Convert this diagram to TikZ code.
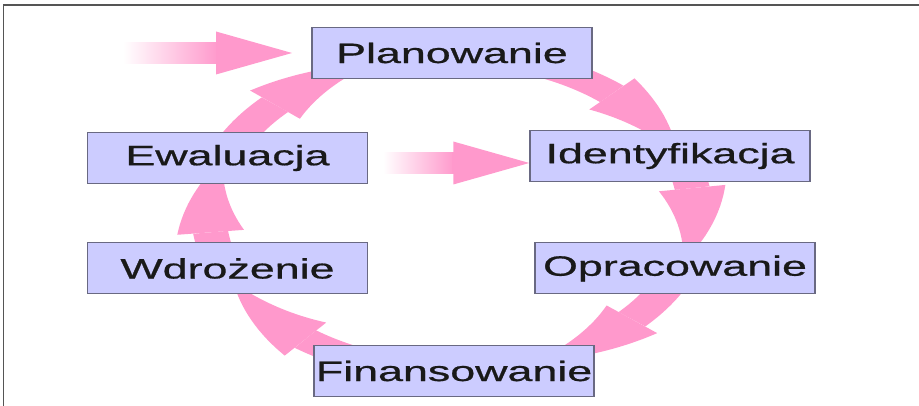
\documentclass[tikz,border=0pt]{standalone}
\usepackage{fontspec}
\setmainfont{Liberation Sans}
\newfontfamily\boxfont[FakeBold=0.6]{Liberation Sans}
\usetikzlibrary{arrows.meta,bending,calc}
\definecolor{pk}{RGB}{255,153,204}
\definecolor{boxfill}{RGB}{204,204,255}
\definecolor{boxline}{RGB}{105,105,130}
\definecolor{framec}{RGB}{85,85,85}
\definecolor{txt}{RGB}{25,25,25}
\pgfdeclarelayer{bg}
\pgfsetlayers{bg,main}
\begin{document}
\begin{tikzpicture}[x=1pt,y=1pt,
  box/.style={draw=boxline, line width=1pt, fill=boxfill, minimum width=175pt,
    minimum height=51pt, inner sep=0pt, text=txt, font=\boxfont\fontsize{28}{32}\selectfont},
  carr/.style={draw=pk, line width=22pt, -{Triangle[length=75pt,width=42pt,line width=0pt,bend]}},
  sarr/.style={draw=pk, line width=21pt, -{Triangle[length=47.5pt,width=43pt,line width=0pt]}},
  st/.style={transform canvas={xscale=1.6}}]
\useasboundingbox (0,0) rectangle (919,406);
\draw[framec, line width=1.5pt] (3.5,0) -- (3.5,401) -- (919,401);
\begin{scope}[st]
  \node[box] (Plan)  at (282.5,353)  {Planowanie};
  \node[box] (Ident) at (418.8,250)  {Identyfikacja};
  \node[box] (Oprac) at (421.9,137.5) {Opracowanie};
  \node[box] (Finan) at (283.8,35)   {Finansowanie};
  \node[box] (Wdro)  at (142.2,137.5) {Wdrożenie};
  \node[box] (Ewal)  at (142.2,248)  {Ewaluacja};
  \coordinate (C) at (282.5,193);
\end{scope}
\begin{pgfonlayer}{bg}
\begin{scope}[st]
  % cycle arrows
  \coordinate (a1) at ($(C)+(80:152pt and 158pt)$);
  \draw[carr] (a1) arc[start angle=80, end angle=22, x radius=152pt, y radius=158pt];
  \coordinate (a2) at ($(C)+(20:152pt and 158pt)$);
  \draw[carr] (a2) arc[start angle=20, end angle=-18, x radius=152pt, y radius=158pt];
  \coordinate (a3) at ($(C)+(-22:152pt and 158pt)$);
  \draw[carr] (a3) arc[start angle=-22, end angle=-70, x radius=152pt, y radius=158pt];
  \coordinate (a4) at ($(C)+(260:152pt and 158pt)$);
  \draw[carr] (a4) arc[start angle=260, end angle=206, x radius=152pt, y radius=158pt];
  \coordinate (a5) at ($(C)+(200:152pt and 158pt)$);
  \draw[carr] (a5) arc[start angle=200, end angle=160, x radius=152pt, y radius=158pt];
  \coordinate (a6) at ($(C)+(160:152pt and 158pt)$);
  \draw[carr] (a6) arc[start angle=160, end angle=109, x radius=152pt, y radius=158pt];
  % input arrow
  \coordinate (inS) at (76.9,353);
  \coordinate (inB) at (135.6,353);
  \coordinate (inT) at ($(Plan.west)+(-12,0)$);
  \shade[left color=white, right color=pk] ($(inS)+(0,-10.5)$) rectangle ($(inB)+(1,10.5)$);
  \draw[sarr] ($(inB)+(-0.5,0)$) -- (inT);
  % middle arrow
  \coordinate (mS) at (239.4,243);
  \coordinate (mB) at (283,243);
  \coordinate (mT) at ($(Ident.west)+(0,-7)$);
  \shade[left color=white, right color=pk] ($(mS)+(0,-10.5)$) rectangle ($(mB)+(1,10.5)$);
  \draw[sarr] ($(mB)+(-0.5,0)$) -- (mT);
\end{scope}
\end{pgfonlayer}
\end{tikzpicture}
\end{document}
